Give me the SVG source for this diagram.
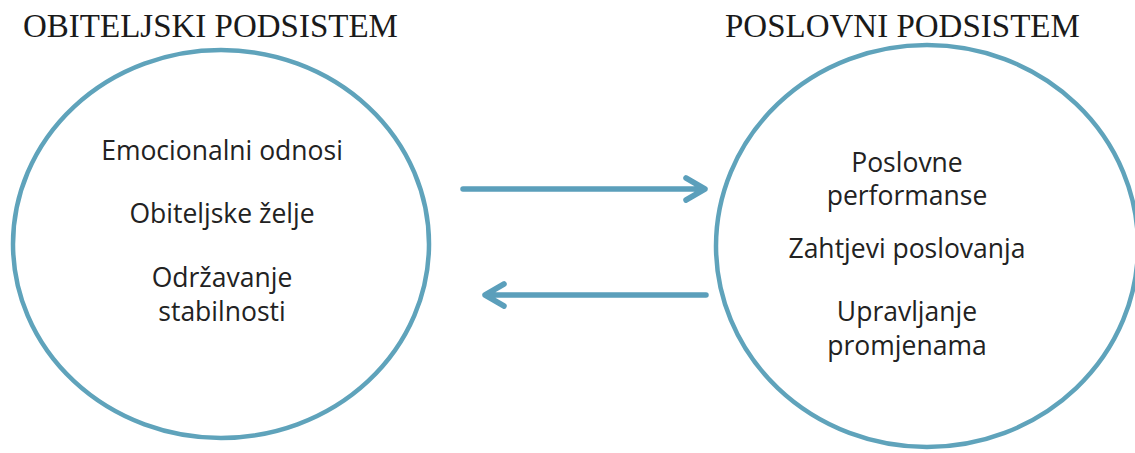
<svg xmlns="http://www.w3.org/2000/svg" width="1135" height="453" viewBox="0 0 1135 453">
<style>
.title{font-family:"Liberation Serif","Times New Roman",serif;font-size:33px;fill:#1a1a1a}
.lbl{font-family:"Open Sans","Liberation Sans",sans-serif;font-size:26.5px;fill:#222;text-anchor:middle}
.ring{fill:none;stroke:#5fa3bb;stroke-width:4.5}
.conn{fill:none;stroke:#5b9fbb;stroke-width:5.5;stroke-linecap:round;stroke-linejoin:round}
</style>
<rect width="1135" height="453" fill="#fff"/>
<g id="obiteljski">
<text class="title" x="23" y="37">OBITELJSKI PODSISTEM</text>
<ellipse class="ring" cx="221" cy="244" rx="208" ry="194"/>
<text class="lbl" x="222" y="160">Emocionalni odnosi</text>
<text class="lbl" x="222" y="223">Obiteljske želje</text>
<text class="lbl" x="222" y="287">Održavanje</text>
<text class="lbl" x="222" y="321">stabilnosti</text>
</g>
<g id="poslovni">
<text class="title" x="725" y="37">POSLOVNI PODSISTEM</text>
<ellipse class="ring" cx="927" cy="246" rx="211" ry="201"/>
<text class="lbl" x="907" y="172">Poslovne</text>
<text class="lbl" x="907" y="205">performanse</text>
<text class="lbl" x="907" y="258">Zahtjevi poslovanja</text>
<text class="lbl" x="907" y="321">Upravljanje</text>
<text class="lbl" x="907" y="355">promjenama</text>
</g>
<g id="connectors">
<path class="conn" d="M463 189 H705 M686 178 L705 189 L686 200"/>
<path class="conn" d="M706 295 H485 M504 284 L485 295 L504 306"/>
</g>
</svg>
